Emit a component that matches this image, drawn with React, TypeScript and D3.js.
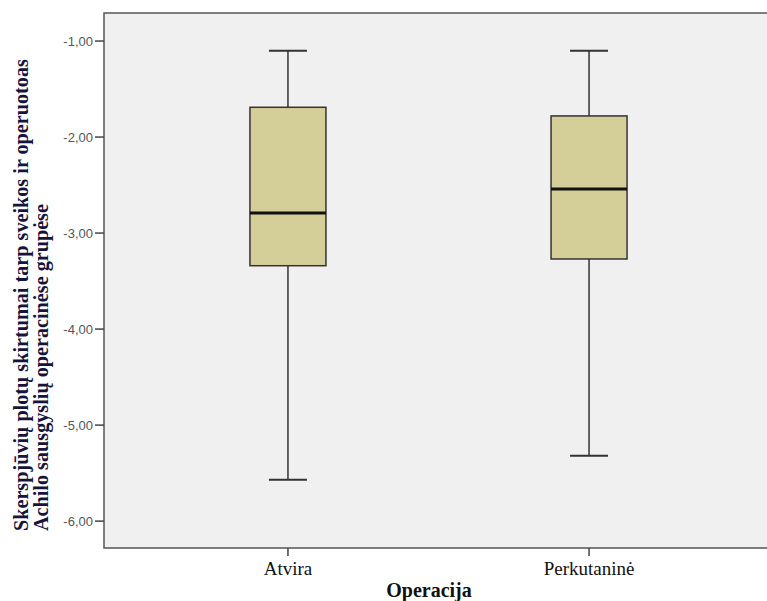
import React from "react";
import * as d3 from "d3";

const categories = ["Atvira", "Perkutaninė"];
const whiskerHigh = [-1.1, -1.1];
const q3 = [-1.69, -1.78];
const medians = [-2.79, -2.54];
const q1 = [-3.34, -3.27];
const whiskerLow = [-5.57, -5.32];
const yTicks = [-1, -2, -3, -4, -5, -6];

const W = 767;
const H = 601;
const plot = { left: 104, top: 13, right: 773, bottom: 548 };

export default function App() {
  const y = d3.scaleLinear().domain([-0.708, -6.28]).range([plot.top, plot.bottom]);
  const x = d3
    .scalePoint<string>()
    .domain(categories)
    .range([plot.left, plot.right])
    .padding(0.611);

  const boxW = 76;
  const capW = 38;
  const fmt = (v: number) => v.toFixed(2).replace(".", ",");

  return (
    <svg width={W} height={H} style={{ position: "absolute", left: 0, top: 0, display: "block" }}>
      <rect x={0} y={0} width={W} height={H} fill="#ffffff" />
      <rect
        x={plot.left}
        y={plot.top}
        width={plot.right - plot.left}
        height={plot.bottom - plot.top}
        fill="#f0f0f0"
        stroke="#555"
        strokeWidth={1.5}
      />
      {yTicks.map((t) => (
        <g key={t}>
          <line x1={plot.left - 9} x2={plot.left} y1={y(t)} y2={y(t)} stroke="#444" strokeWidth={1.5} />
          <text
            x={plot.left - 11}
            y={y(t)}
            dy="0.35em"
            textAnchor="end"
            fontFamily="Liberation Sans, Arial, sans-serif"
            fontSize={13}
            fill="#555"
          >
            {fmt(t)}
          </text>
        </g>
      ))}
      {categories.map((c, i) => {
        const cx = x(c) as number;
        return (
          <g key={c}>
            <line x1={cx} x2={cx} y1={plot.bottom} y2={plot.bottom + 8} stroke="#444" strokeWidth={1.5} />
            <text
              x={cx}
              y={575}
              textAnchor="middle"
              fontFamily="Liberation Serif, Times New Roman, serif"
              fontSize={19}
              fill="#111"
            >
              {c}
            </text>
            <line x1={cx} x2={cx} y1={y(whiskerHigh[i])} y2={y(q3[i])} stroke="#333" strokeWidth={1.5} />
            <line x1={cx} x2={cx} y1={y(q1[i])} y2={y(whiskerLow[i])} stroke="#333" strokeWidth={1.5} />
            <line
              x1={cx - capW / 2}
              x2={cx + capW / 2}
              y1={y(whiskerHigh[i])}
              y2={y(whiskerHigh[i])}
              stroke="#333"
              strokeWidth={2}
            />
            <line
              x1={cx - capW / 2}
              x2={cx + capW / 2}
              y1={y(whiskerLow[i])}
              y2={y(whiskerLow[i])}
              stroke="#333"
              strokeWidth={2}
            />
            <rect
              x={cx - boxW / 2}
              y={y(q3[i])}
              width={boxW}
              height={y(q1[i]) - y(q3[i])}
              fill="#d4cf99"
              stroke="#333"
              strokeWidth={1.5}
            />
            <line
              x1={cx - boxW / 2}
              x2={cx + boxW / 2}
              y1={y(medians[i])}
              y2={y(medians[i])}
              stroke="#111"
              strokeWidth={3}
            />
          </g>
        );
      })}
      <text
        x={429}
        y={597}
        textAnchor="middle"
        fontFamily="Liberation Serif, Times New Roman, serif"
        fontWeight="bold"
        fontSize={20}
        fill="#111"
      >
        Operacija
      </text>
      <text
        transform="translate(28, 531) rotate(-90)"
        textAnchor="start"
        fontFamily="Liberation Serif, Times New Roman, serif"
        fontWeight="bold"
        fontSize={20.2}
        fill="#14143c"
      >
        <tspan x={0} y={0}>Skerspjūvių plotų skirtumai tarp sveikos ir operuotoas</tspan>
        <tspan x={0} y={20}>Achilo sausgyslių operacinėse grupėse</tspan>
      </text>
    </svg>
  );
}
